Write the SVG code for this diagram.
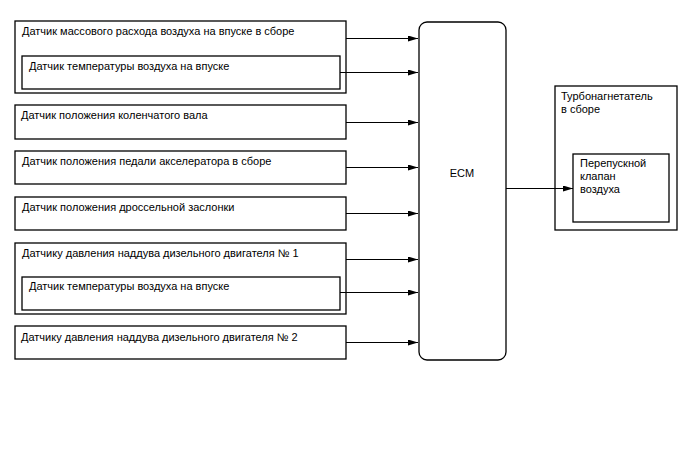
<svg xmlns="http://www.w3.org/2000/svg" width="688" height="463" viewBox="0 0 688 463">
<style>
.b{fill:#fff;stroke:#000;stroke-width:1.3}
.t{font-family:"Liberation Sans",Arial,sans-serif;font-size:11px;fill:#000}
.c{stroke:#000;stroke-width:1;fill:none;marker-end:url(#a)}
</style>
<defs>
<marker id="a" viewBox="0 0 10 6" refX="10" refY="3" markerWidth="10" markerHeight="6" markerUnits="userSpaceOnUse" orient="auto">
<path d="M0,0 L10,3 L0,6 z" fill="#000"/>
</marker>
</defs>
<rect width="688" height="463" fill="#fff"/>
<g id="maf">
<rect class="b" x="15" y="21" width="331" height="72"/>
<text class="t" x="22" y="35">Датчик массового расхода воздуха на впуске в сборе</text>
</g>
<g id="iat1">
<rect class="b" x="22" y="56" width="318" height="33"/>
<text class="t" x="29" y="70">Датчик температуры воздуха на впуске</text>
</g>
<g id="ckp">
<rect class="b" x="15" y="105" width="331" height="34"/>
<text class="t" x="21" y="119">Датчик положения коленчатого вала</text>
</g>
<g id="app">
<rect class="b" x="15" y="151" width="331" height="33"/>
<text class="t" x="22" y="165">Датчик положения педали акселератора в сборе</text>
</g>
<g id="tps">
<rect class="b" x="15" y="197" width="331" height="33"/>
<text class="t" x="22" y="211">Датчик положения дроссельной заслонки</text>
</g>
<g id="boost1">
<rect class="b" x="15" y="243" width="331" height="71"/>
<text class="t" x="22" y="257">Датчику давления наддува дизельного двигателя № 1</text>
</g>
<g id="iat2">
<rect class="b" x="22" y="277" width="318" height="33"/>
<text class="t" x="29" y="290">Датчик температуры воздуха на впуске</text>
</g>
<g id="boost2">
<rect class="b" x="15" y="326" width="331" height="33"/>
<text class="t" x="21" y="341">Датчику давления наддува дизельного двигателя № 2</text>
</g>
<g id="ecm">
<rect class="b" x="419" y="22" width="87" height="338" rx="8" ry="8"/>
<text class="t" x="462" y="177" text-anchor="middle">ECM</text>
</g>
<g id="turbo">
<rect class="b" x="555" y="86" width="122" height="144"/>
<text class="t" x="561" y="100">Турбонагнетатель</text>
<text class="t" x="561" y="113">в сборе</text>
</g>
<g id="valve">
<rect class="b" x="573" y="154" width="96" height="68"/>
<text class="t" x="580" y="167">Перепускной</text>
<text class="t" x="580" y="180">клапан</text>
<text class="t" x="580" y="193">воздуха</text>
</g>
<g id="connectors">
<line class="c" x1="346" y1="38.5" x2="418" y2="38.5"/>
<line class="c" x1="340" y1="72.5" x2="418" y2="72.5"/>
<line class="c" x1="346" y1="122.5" x2="418" y2="122.5"/>
<line class="c" x1="346" y1="167.5" x2="418" y2="167.5"/>
<line class="c" x1="346" y1="213.5" x2="418" y2="213.5"/>
<line class="c" x1="346" y1="259.5" x2="418" y2="259.5"/>
<line class="c" x1="340" y1="292.5" x2="418" y2="292.5"/>
<line class="c" x1="346" y1="342.5" x2="418" y2="342.5"/>
<line class="c" x1="506" y1="188.5" x2="573" y2="188.5"/>
</g>
</svg>
